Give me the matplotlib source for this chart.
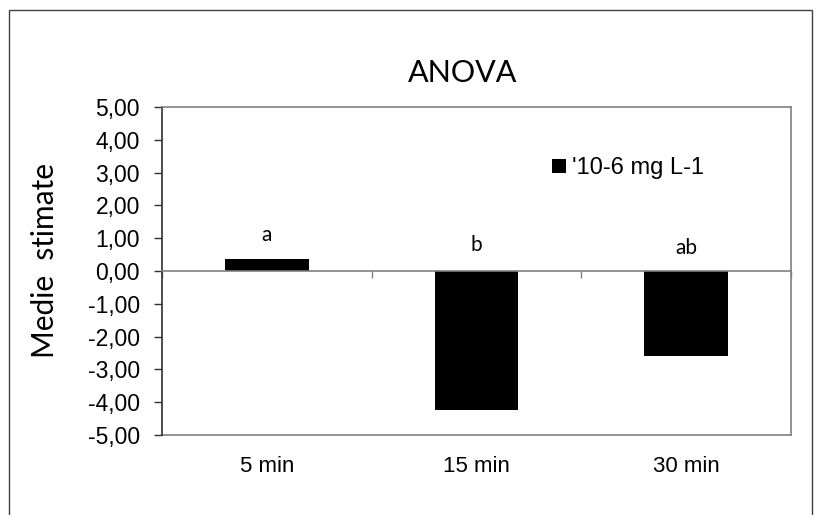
import matplotlib
matplotlib.use("Agg")
import matplotlib.pyplot as plt
from matplotlib.patches import Rectangle

plt.rcParams['font.family'] = ['Liberation Sans', 'DejaVu Sans']
TITLE_FONT = ['Lato', 'DejaVu Sans']

# Data
categories = ["5 min", "15 min", "30 min"]
means = [0.38, -4.25, -2.60]
letters = ["a", "b", "ab"]
letter_y = [1.10, 0.80, 0.70]
series_label = "'10-6 mg L-1"
y_ticks = [-5, -4, -3, -2, -1, 0, 1, 2, 3, 4, 5]

W, H = 822, 515
fig = plt.figure(figsize=(W / 100, H / 100), dpi=100)
ax = fig.add_axes([162 / W, 1 - 435 / H, (791 - 162) / W, (435 - 107) / H])

x = list(range(len(categories)))
bars = ax.bar(x, means, width=0.4, color="black", label=series_label, zorder=3)

ax.set_xlim(-0.5, 2.5)
ax.set_ylim(-5, 5)

grey = "#808080"
# Value axis
ax.set_yticks(y_ticks)
ax.set_yticklabels([f"{v:.2f}".replace(".", ",") for v in y_ticks], fontsize=16.5)
ax.tick_params(axis="y", direction="out", length=6, width=1, color="#303030", pad=10)
ax.spines["left"].set_color("#303030")
ax.spines["top"].set_color(grey)
ax.spines["right"].set_color(grey)
for s in ax.spines.values():
    s.set_linewidth(1.2)

# Category axis crossing at zero, with tick marks between categories
ax.spines["bottom"].set_position(("data", 0))
ax.spines["bottom"].set_color(grey)
ax.spines["bottom"].set_zorder(4)
ax.set_xticks([])
ax.set_xticks([-0.5, 0.5, 1.5, 2.5], minor=True)
ax.tick_params(axis="x", which="minor", direction="out", length=5, width=1, color=grey)

# Category labels along the bottom border of the plot area
sec = ax.secondary_xaxis(0.0)
sec.set_xticks(x)
sec.set_xticklabels(categories, fontsize=16)
sec.tick_params(axis="x", length=0, pad=15)
sec.spines["bottom"].set_color(grey)
sec.spines["bottom"].set_linewidth(1.2)

# Group letters
for xi, lt, ly in zip(x, letters, letter_y):
    ax.text(xi, ly, lt, ha="center", va="center", fontsize=15, family=TITLE_FONT)

# Title and axis label
fig.text(463 / W, 1 - 73 / H, "ANOVA", ha="center", va="center",
         fontsize=22, family=TITLE_FONT)
fig.text(45 / W, 1 - 261 / H, "Medie  stimate", rotation=90, ha="center", va="center",
         fontsize=21.5, family=TITLE_FONT)

# Legend
ax.legend(handles=[bars], labels=[series_label], loc="center left",
          bbox_to_anchor=(552 / W, 1 - 168 / H), bbox_transform=fig.transFigure,
          frameon=False, fontsize=17, handlelength=0.6, handleheight=0.55,
          handletextpad=0.25, borderpad=0, borderaxespad=0)

# Outer chart frame
fig.patches.append(Rectangle((9 / W, -0.1), (812 - 9) / W, 1.1 - 10 / H,
                             transform=fig.transFigure, fill=False,
                             edgecolor="#404040", linewidth=1))

fig.savefig("out.png", dpi=100, facecolor="white")
